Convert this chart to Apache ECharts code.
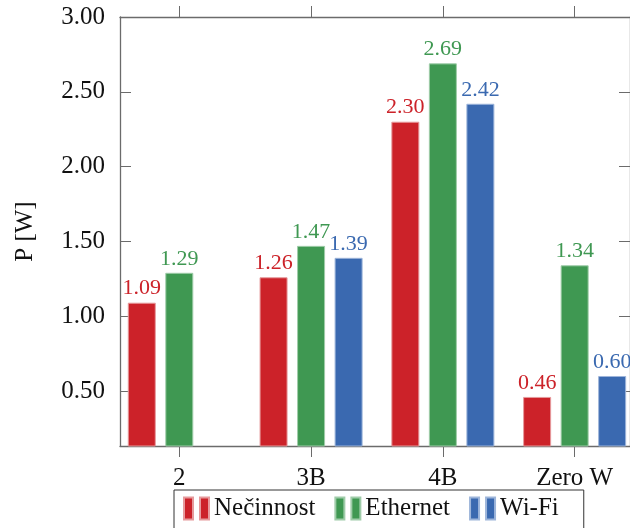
<!DOCTYPE html>
<html>
<head>
<meta charset="utf-8">
<script src="https://cdn.jsdelivr.net/npm/echarts@6/dist/echarts.min.js"></script>
<style>html,body{margin:0;padding:0;background:#fff;}#c{width:630px;height:528px;}</style>
</head>
<body>
<div id="c"></div>
<script>
const categories = ['2', '3B', '4B', 'Zero W'];
const idle = [1.09, 1.26, 2.30, 0.46];
const ethernet = [1.29, 1.47, 2.69, 1.34];
const wifi = [null, 1.39, 2.42, 0.60];
const yTicks = [0.5, 1.0, 1.5, 2.0, 2.5, 3.0];
const seriesNames = ['Nečinnost', 'Ethernet', 'Wi-Fi'];

const FONT = 'Liberation Serif';
const AX = '#6b6b6b';
const colors = ['#cc2229', '#3f9852', '#3a69b0'];
const borders = ['#e69a9c', '#9fcca9', '#9db5da'];
const catIdx = categories.map((_, i) => i);

function toPairs(arr) {
  const out = [];
  arr.forEach((v, i) => { if (v !== null) out.push([i, v]); });
  return out;
}
const allData = [idle, ethernet, wifi];

const chart = echarts.init(document.getElementById('c'), null, {renderer: 'canvas'});
const option = {
  animation: false,
  backgroundColor: '#fff',
  textStyle: {fontFamily: FONT},
  grid: {left: 120, right: -6, top: 17, bottom: 82, containLabel: false},
  legend: {
    left: 174, top: 490,
    orient: 'horizontal',
    data: seriesNames,
    icon: 'path://M0,0h9v22h-9z M16,0h9v22h-9z',
    itemWidth: 25, itemHeight: 22, itemGap: 19,
    padding: [6, 25, 10, 9],
    borderColor: '#333', borderWidth: 1,
    textStyle: {fontFamily: FONT, fontSize: 25, color: '#111'},
    selectedMode: false
  },
  xAxis: [{
    type: 'value', position: 'bottom', min: -0.45, max: 3.42,
    axisLine: {show: true, lineStyle: {color: AX, width: 1.3}},
    axisTick: {show: true, inside: false, length: 11, customValues: catIdx, lineStyle: {color: AX, width: 1}},
    axisLabel: {show: true, customValues: catIdx, formatter: v => categories[Math.round(v)] || '',
      fontFamily: FONT, fontSize: 25, color: '#111', margin: 20},
    splitLine: {show: false}
  }, {
    type: 'value', position: 'top', min: -0.45, max: 3.42,
    axisLine: {show: true, onZero: false, lineStyle: {color: AX, width: 1.3}},
    axisTick: {show: true, inside: false, length: 11, customValues: catIdx, lineStyle: {color: AX, width: 1}},
    axisLabel: {show: false},
    splitLine: {show: false}
  }],
  yAxis: [{
    type: 'value', position: 'left', min: 0.132, max: 3.0,
    name: 'P [W]', nameLocation: 'middle', nameGap: 82,
    nameTextStyle: {fontFamily: FONT, fontSize: 25, color: '#111'},
    axisLine: {show: true, onZero: false, lineStyle: {color: AX, width: 1.3}},
    axisTick: {show: true, inside: true, length: 11, customValues: yTicks, lineStyle: {color: AX, width: 1}},
    axisLabel: {show: true, customValues: yTicks, formatter: v => v.toFixed(2),
      fontFamily: FONT, fontSize: 25, color: '#111', margin: 15},
    splitLine: {show: false}
  }, {
    type: 'value', position: 'right', min: 0.132, max: 3.0,
    axisLine: {show: true, onZero: false, lineStyle: {color: AX, width: 1.3}},
    axisTick: {show: true, inside: true, length: 11, customValues: yTicks, lineStyle: {color: AX, width: 1}},
    axisLabel: {show: false},
    splitLine: {show: false}
  }],
  series: seriesNames.map((name, k) => ({
    name: name,
    type: 'bar',
    xAxisIndex: 0, yAxisIndex: 0,
    data: toPairs(allData[k]),
    barWidth: 28,
    barGap: '34%',
    itemStyle: {color: colors[k], borderColor: borders[k], borderWidth: 1},
    label: {show: true, position: 'top', distance: 3,
      formatter: p => p.value[1].toFixed(2),
      fontFamily: FONT, fontSize: 22, color: colors[k]}
  }))
};
chart.setOption(option);
</script>
</body>
</html>
